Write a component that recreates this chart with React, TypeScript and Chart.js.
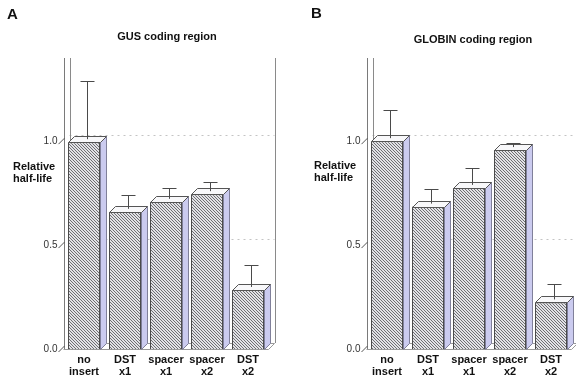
import React, { useEffect, useRef } from 'react';
import { Chart, registerables } from 'chart.js';
Chart.register(...registerables);

const categories = [['no', 'insert'], ['DST', 'x1'], ['spacer', 'x1'], ['spacer', 'x2'], ['DST', 'x2']];
const gusValues = [0.995, 0.66, 0.708, 0.745, 0.284];
const gusErrorTops = [1.275, 0.726, 0.758, 0.788, 0.39];
const globinValues = [1.0, 0.685, 0.775, 0.957, 0.224];
const globinErrorTops = [1.133, 0.756, 0.855, 0.976, 0.3];
const yTickValues = [0, 0.5, 1.0];
const Y_MAX = 1.4;

const FONT = "'Liberation Sans', Arial, Helvetica, sans-serif";
const D = 6; // 3D depth in px

function makeHatch(): CanvasPattern | string {
  const c = document.createElement('canvas');
  c.width = 3;
  c.height = 3;
  const g = c.getContext('2d');
  if (!g) return '#aaa';
  g.fillStyle = '#e2e2e6';
  g.fillRect(0, 0, 3, 3);
  g.fillStyle = '#6e6e72';
  for (let i = 0; i < 3; i++) g.fillRect(i, i, 1, 1);
  const p = g.createPattern(c, 'repeat');
  return p || '#aaa';
}

type PanelCfg = {
  letter: string;
  letterX: number;
  letterY: number;
  title: string;
  titleX: number;
  titleY: number;
  ylabX: number;
  ylabY: number;
  values: number[];
  errors: number[];
  padLeft: number;
  padRight: number;
  rightWall: string;
};

function Panel({ cfg }: { cfg: PanelCfg }) {
  const ref = useRef<HTMLCanvasElement | null>(null);
  useEffect(() => {
    if (!ref.current) return;
    const hatch = makeHatch();
    const deco = {
      id: 'deco3d',
      beforeDatasetsDraw(chart: any) {
        const ctx = chart.ctx;
        const { left, right, top, bottom } = chart.chartArea;
        const ys = chart.scales.y;
        ctx.save();
        // back wall grid lines
        ctx.strokeStyle = '#c4c4c4';
        ctx.lineWidth = 1;
        ctx.setLineDash([2, 4]);
        [0.5, 1.0].forEach((v) => {
          const y = Math.round(ys.getPixelForValue(v) - D) + 0.5;
          ctx.beginPath();
          ctx.moveTo(left + D, y);
          ctx.lineTo(right + D, y);
          ctx.stroke();
        });
        ctx.setLineDash([]);
        // back left axis & right wall edge
        ctx.strokeStyle = '#8a8a8a';
        ctx.beginPath();
        ctx.moveTo(Math.round(left + D) + 0.5, top);
        ctx.lineTo(Math.round(left + D) + 0.5, bottom - D);
        ctx.stroke();
        ctx.strokeStyle = cfg.rightWall;
        ctx.beginPath();
        ctx.moveTo(Math.round(right + D) + 0.5, top);
        ctx.lineTo(Math.round(right + D) + 0.5, bottom - D);
        ctx.stroke();
        // floor
        ctx.strokeStyle = '#9a9a9a';
        ctx.beginPath();
        ctx.moveTo(left, Math.round(bottom) + 0.5);
        ctx.lineTo(right, Math.round(bottom) + 0.5);
        ctx.lineTo(right + D, Math.round(bottom - D) + 0.5);
        ctx.moveTo(left + D, Math.round(bottom - D) + 0.5);
        ctx.lineTo(right + D, Math.round(bottom - D) + 0.5);
        ctx.stroke();
        // front left axis
        ctx.strokeStyle = '#7a7a7a';
        ctx.beginPath();
        ctx.moveTo(Math.round(left) + 0.5, top);
        ctx.lineTo(Math.round(left) + 0.5, bottom);
        ctx.stroke();
        // slanted tick marks
        ctx.strokeStyle = '#555';
        yTickValues.forEach((v) => {
          const y = ys.getPixelForValue(v);
          ctx.beginPath();
          ctx.moveTo(left - 5, y + 3);
          ctx.lineTo(left + 1, y - 3);
          ctx.stroke();
        });
        ctx.restore();
      },
      afterDatasetsDraw(chart: any) {
        const ctx = chart.ctx;
        const ys = chart.scales.y;
        const meta = chart.getDatasetMeta(0);
        ctx.save();
        ctx.lineWidth = 1;
        meta.data.forEach((bar: any, i: number) => {
          const p = bar.getProps(['x', 'y', 'base', 'width'], true);
          const l = Math.round(p.x - p.width / 2) + 0.5;
          const r = Math.round(p.x + p.width / 2) + 0.5;
          const t = Math.round(p.y) + 0.5;
          const b = Math.round(p.base) + 0.5;
          // side face
          ctx.fillStyle = '#cbcbef';
          ctx.strokeStyle = '#80809a';
          ctx.beginPath();
          ctx.moveTo(r, t);
          ctx.lineTo(r + D, t - D);
          ctx.lineTo(r + D, b - D);
          ctx.lineTo(r, b);
          ctx.closePath();
          ctx.fill();
          ctx.stroke();
          // top face
          ctx.fillStyle = '#f8f8fa';
          ctx.strokeStyle = '#555';
          ctx.beginPath();
          ctx.moveTo(l, t);
          ctx.lineTo(l + D, t - D);
          ctx.lineTo(r + D, t - D);
          ctx.lineTo(r, t);
          ctx.closePath();
          ctx.fill();
          ctx.stroke();
          // error bar
          const ex = Math.round(p.x + D / 2) + 0.5;
          const ey0 = p.y - D / 2;
          const ey1 = Math.round(ys.getPixelForValue(cfg.errors[i]) - D / 2) + 0.5;
          ctx.strokeStyle = '#4a4a4a';
          ctx.beginPath();
          ctx.moveTo(ex, ey0);
          ctx.lineTo(ex, ey1);
          ctx.moveTo(ex - 7, ey1);
          ctx.lineTo(ex + 7, ey1);
          ctx.stroke();
        });
        ctx.restore();
      },
      afterDraw(chart: any) {
        const ctx = chart.ctx;
        ctx.save();
        ctx.fillStyle = '#111';
        ctx.textBaseline = 'alphabetic';
        ctx.textAlign = 'left';
        ctx.font = `bold 15px ${FONT}`;
        ctx.fillText(cfg.letter, cfg.letterX, cfg.letterY);
        ctx.font = `bold 11px ${FONT}`;
        ctx.textAlign = 'center';
        ctx.textBaseline = 'middle';
        ctx.fillText(cfg.title, cfg.titleX, cfg.titleY);
        ctx.textAlign = 'left';
        ctx.fillText('Relative', cfg.ylabX, cfg.ylabY);
        ctx.fillText('half-life', cfg.ylabX, cfg.ylabY + 12.5);
        ctx.restore();
      },
    };
    const chart = new Chart(ref.current, {
      type: 'bar',
      data: {
        labels: categories,
        datasets: [
          {
            data: cfg.values,
            backgroundColor: hatch as any,
            borderColor: '#4a4a4a',
            borderWidth: 1,
            categoryPercentage: 1,
            barPercentage: 0.78,
          },
        ],
      },
      options: {
        animation: false,
        responsive: false,
        devicePixelRatio: 1,
        layout: { padding: { left: cfg.padLeft, right: cfg.padRight, top: 58, bottom: 0 } },
        plugins: { legend: { display: false }, tooltip: { enabled: false }, title: { display: false } },
        scales: {
          x: {
            grid: { display: false, drawTicks: false },
            border: { display: false },
            ticks: {
              padding: 5,
              color: '#111',
              font: { family: FONT, size: 11, weight: 'bold', lineHeight: 1.1 },
              maxRotation: 0,
              autoSkip: false,
            },
            afterFit: (s: any) => {
              s.height = 28;
            },
          },
          y: {
            min: 0,
            max: Y_MAX,
            grid: { display: false, drawTicks: false },
            border: { display: false },
            afterBuildTicks: (s: any) => {
              s.ticks = yTickValues.map((v) => ({ value: v }));
            },
            ticks: {
              padding: 6,
              color: '#333',
              font: { family: FONT, size: 10 },
              callback: (v: any) => Number(v).toFixed(1),
            },
            afterFit: (s: any) => {
              s.width = 30;
            },
          },
        },
      },
      plugins: [deco],
    });
    return () => chart.destroy();
  }, [cfg]);
  return <canvas ref={ref} width={288} height={377} style={{ display: 'block', width: 288, height: 377 }} />;
}

const panelA: PanelCfg = {
  letter: 'A',
  letterX: 7,
  letterY: 19,
  title: 'GUS coding region',
  titleX: 167,
  titleY: 37,
  ylabX: 13,
  ylabY: 166.5,
  values: gusValues,
  errors: gusErrorTops,
  padLeft: 33.5,
  padRight: 19.5,
  rightWall: '#8a8a8a',
};

const panelB: PanelCfg = {
  letter: 'B',
  letterX: 23,
  letterY: 18,
  title: 'GLOBIN coding region',
  titleX: 185,
  titleY: 40,
  ylabX: 26,
  ylabY: 165.5,
  values: globinValues,
  errors: globinErrorTops,
  padLeft: 48.5,
  padRight: 4.5,
  rightWall: '#dcdcdc',
};

export default function App() {
  return (
    <div style={{ position: 'fixed', left: 0, top: 0, width: 576, height: 377, background: '#fff', display: 'flex' }}>
      <Panel cfg={panelA} />
      <Panel cfg={panelB} />
    </div>
  );
}
